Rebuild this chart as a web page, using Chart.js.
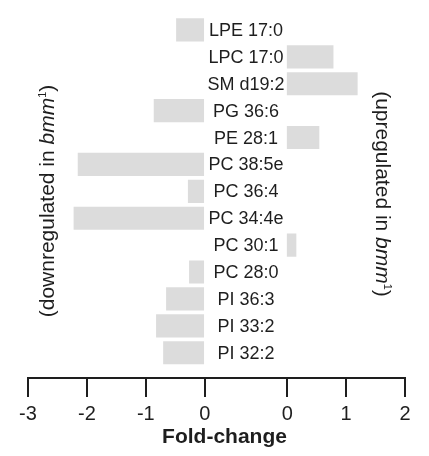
<!DOCTYPE html>
<html>
<head>
<meta charset="utf-8">
<script src="https://cdn.jsdelivr.net/npm/chart.js@4.4.1/dist/chart.umd.min.js"></script>
<style>
  html, body { margin: 0; padding: 0; background: #fff; }
  canvas { display: block; }
</style>
</head>
<body>
<canvas id="foldChart" width="429" height="456"></canvas>
<script>
// lipid species, top to bottom
const LIPIDS = ["LPE 17:0", "LPC 17:0", "SM d19:2", "PG 36:6", "PE 28:1", "PC 38:5e",
  "PC 36:4", "PC 34:4e", "PC 30:1", "PC 28:0", "PI 36:3", "PI 33:2", "PI 32:2"];

// fold-change of each species (negative = down, positive = up)
const FOLD_CHANGE = [-0.48, 0.78, 1.19, -0.86, 0.54, -2.15,
  -0.28, -2.22, 0.15, -0.26, -0.65, -0.82, -0.70];

// ticks on the two halves of the broken axis
const NEG_TICKS = [-3, -2, -1, 0];
const POS_TICKS = [0, 1, 2];

// break between the halves, in axis units; the names sit in it
const GAP = 1.4;

const FONT = "'Liberation Sans', Arial, Helvetica, sans-serif";
const INK = "#1e1e1e";
const BAR = "#dcdcdc";

// positive bars start after the break, negative ones end at 0
const bars = FOLD_CHANGE.map((v, i) => ({
  x: v < 0 ? [v, 0] : [GAP, GAP + v],
  y: i
}));

// rotated side note with italic "bmm" and a superscript 1
function sideNote(ctx, word, cx, cy, angle) {
  const parts = [
    { text: "(" + word + " in ", font: "21px " + FONT, rise: 0 },
    { text: "bmm", font: "italic 21px " + FONT, rise: 0 },
    { text: "1", font: "11px " + FONT, rise: -8 },
    { text: ")", font: "21px " + FONT, rise: 0 }
  ];
  let total = 0;
  parts.forEach(p => { ctx.font = p.font; p.w = ctx.measureText(p.text).width; total += p.w; });

  ctx.save();
  ctx.translate(cx, cy);
  ctx.rotate(angle);
  ctx.textAlign = "left";
  ctx.textBaseline = "alphabetic";
  let x = -total / 2;
  parts.forEach(p => {
    ctx.font = p.font;
    ctx.fillText(p.text, x, 7 + p.rise);
    x += p.w;
  });
  ctx.restore();
}

// names in the break, side notes and the axis title
const annotations = {
  id: "annotations",
  afterDraw(chart) {
    const ctx = chart.ctx;
    const xs = chart.scales.x;
    const ys = chart.scales.y;
    ctx.save();
    ctx.fillStyle = INK;

    ctx.font = "18px " + FONT;
    ctx.textAlign = "center";
    ctx.textBaseline = "middle";
    const mid = xs.getPixelForValue(GAP / 2);
    LIPIDS.forEach((name, i) => ctx.fillText(name, mid, ys.getPixelForValue(i) + 1));

    sideNote(ctx, "downregulated", 47, 201, -Math.PI / 2);
    sideNote(ctx, "upregulated", 383, 194, Math.PI / 2);

    ctx.font = "bold 21px " + FONT;
    ctx.textAlign = "center";
    ctx.textBaseline = "alphabetic";
    ctx.fillText("Fold-change", (chart.chartArea.left + chart.chartArea.right) / 2 + 8, 443);
    ctx.restore();
  }
};

const ctx = document.getElementById("foldChart").getContext("2d");

new Chart(ctx, {
  type: "bar",
  data: {
    datasets: [{
      data: bars,
      backgroundColor: BAR,
      borderWidth: 0,
      barThickness: 22.5
    }]
  },
  options: {
    indexAxis: "y",
    responsive: false,
    animation: false,
    layout: { padding: { left: 28, right: 24, top: 16.5, bottom: 0 } },
    plugins: {
      legend: { display: false },
      tooltip: { enabled: false }
    },
    scales: {
      y: {
        type: "linear",
        reverse: true,
        offset: false,
        min: -0.5,
        max: LIPIDS.length - 0.06,
        display: false
      },
      x: {
        type: "linear",
        min: -3,
        max: GAP + 2,
        afterBuildTicks: scale => {
          scale.ticks = NEG_TICKS.map(v => ({ value: v }))
            .concat(POS_TICKS.map(v => ({ value: v + GAP })));
        },
        afterFit: scale => { scale.height = 78; },
        grid: { drawOnChartArea: false, tickLength: 19, color: INK, lineWidth: 2 },
        border: { color: INK, width: 2 },
        ticks: {
          color: INK,
          font: { family: FONT, size: 20 },
          padding: 5,
          autoSkip: false,
          maxRotation: 0,
          callback: v => String(v <= 0 ? v : Math.round(v - GAP))
        }
      }
    }
  },
  plugins: [annotations]
});
</script>
</body>
</html>
